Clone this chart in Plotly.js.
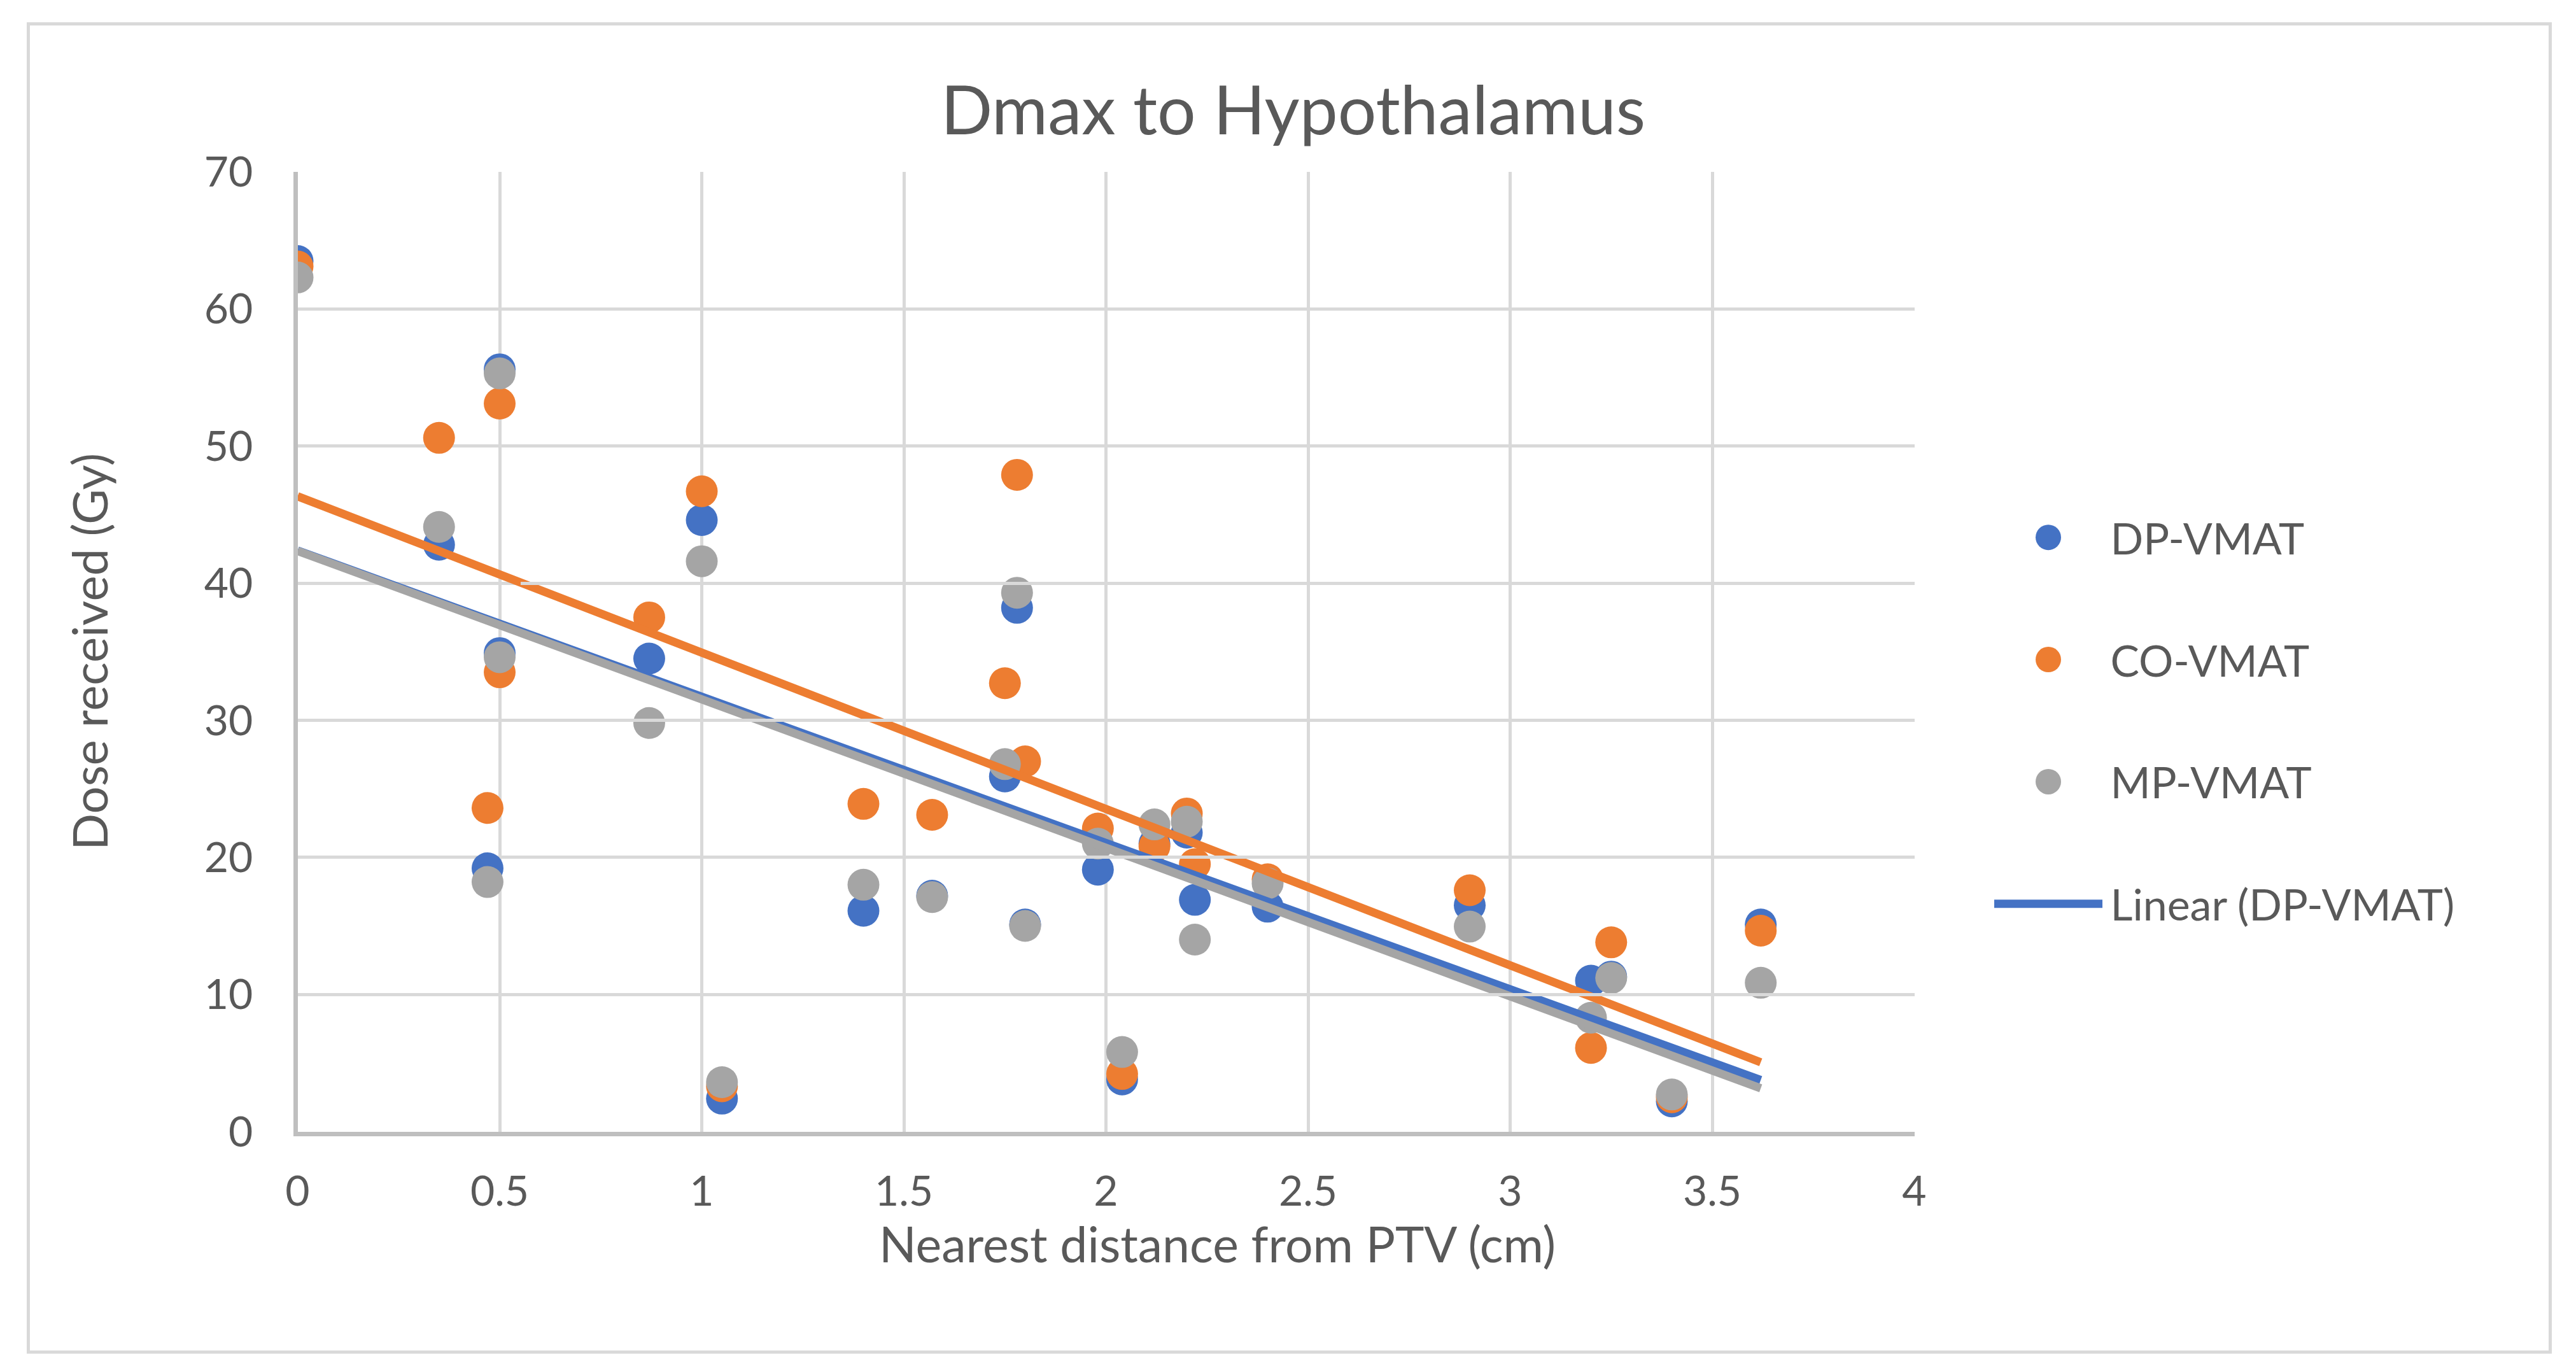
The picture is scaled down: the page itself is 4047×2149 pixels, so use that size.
<!DOCTYPE html>
<html>
<head>
<meta charset="utf-8">
<script src="https://cdn.plot.ly/plotly-3.0.1.min.js"></script>
<style>
  html, body { margin: 0; padding: 0; background: #fff; width: 4047px; height: 2149px; }
  #chart { transform-origin: 0 0; position: absolute; left: 0; top: 0; }
</style>
</head>
<body>
<div id="chart"></div>
<script>
// Dmax to Hypothalamus - scatter of dose vs distance with linear trendlines.
// Drawn at 1/S size and scaled up with CSS so legend markers keep their size.

const S = 2.5;
const W = 4047;
const H = 2149;
const px = (v) => v / S;

const distance = [0, 0.35, 0.47, 0.5, 0.5, 0.87, 1.0, 1.05, 1.40, 1.57, 1.75, 1.78,
  1.80, 1.98, 2.04, 2.12, 2.20, 2.22, 2.40, 2.90, 3.20, 3.25, 3.40, 3.62];
const dpVmat = [63.5, 42.8, 19.2, 55.6, 34.9, 34.5, 44.6, 2.4, 16.1, 17.2, 25.9, 38.2,
  15.1, 19.1, 3.8, 21.0, 21.8, 16.9, 16.4, 16.5, 11.0, 11.3, 2.2, 15.1];
const coVmat = [63.1, 50.6, 23.6, 53.1, 33.5, 37.5, 46.7, 3.3, 23.9, 23.1, 32.7, 47.9,
  27.0, 22.1, 4.2, 20.8, 23.2, 19.5, 18.4, 17.6, 6.1, 13.8, 2.5, 14.65];
const mpVmat = [62.3, 44.1, 18.2, 55.3, 34.6, 29.8, 41.6, 3.6, 18.0, 17.1, 26.8, 39.3,
  15.0, 21.0, 5.8, 22.4, 22.6, 14.0, 18.1, 14.95, 8.3, 11.2, 2.7, 10.85];

const seriesNames = ["DP-VMAT", "CO-VMAT", "MP-VMAT"];
const seriesValues = [dpVmat, coVmat, mpVmat];
const seriesColors = ["#4472C4", "#ED7D31", "#A5A5A5"];

const TEXT = "#595959";
const GRID = "#D9D9D9";
const AXIS = "#BFBFBF";
const FONT = "Lato, 'Open Sans', sans-serif";

// least squares fit, like Excel's linear trendline
function linearFit(x, y) {
  const n = x.length;
  const mx = x.reduce((a, b) => a + b, 0) / n;
  const my = y.reduce((a, b) => a + b, 0) / n;
  let sxy = 0, sxx = 0;
  for (let i = 0; i < n; i++) {
    sxy += (x[i] - mx) * (y[i] - my);
    sxx += (x[i] - mx) ** 2;
  }
  const slope = sxy / sxx;
  return { slope, intercept: my - slope * mx };
}

const xMin = Math.min(...distance);
const xMax = Math.max(...distance);

const scatterTraces = seriesNames.map((name, i) => ({
  x: distance,
  y: seriesValues[i],
  name,
  type: "scatter",
  mode: "markers",
  marker: { color: seriesColors[i], size: px(50) },
  legendgroup: name,
}));

const trendTraces = seriesNames.map((name, i) => {
  const fit = linearFit(distance, seriesValues[i]);
  const tx = [xMin, xMax];
  return {
    x: tx,
    y: tx.map((v) => fit.intercept + fit.slope * v),
    name: "Linear (" + name + ")",
    type: "scatter",
    mode: "lines",
    line: { color: seriesColors[i], width: px(13) },
    legendgroup: "trend" + name,
    showlegend: i === 0,
    hoverinfo: "skip",
  };
});

// empty trace, only there so the helper axis x2 (which carries the x title) is drawn
const titleAxisTrace = {
  x: [],
  y: [],
  xaxis: "x2",
  yaxis: "y",
  type: "scatter",
  mode: "markers",
  showlegend: false,
  hoverinfo: "skip",
};

// plot area in page pixels: x 467..3007, y 271..1776
const plotL = 467, plotR = 3007, plotT = 271, plotB = 1776;
const toPaperX = (v) => (v - plotL) / (plotR - plotL);
const toPaperY = (v) => (plotB - v) / (plotB - plotT);

// the x title in the reference sits right of the plot centre (page x ~1912),
// so it is carried by a bare helper axis whose domain is centred there
const xTitleCentre = toPaperX(1912);

const layout = {
  width: px(W),
  height: px(H),
  paper_bgcolor: "#fff",
  plot_bgcolor: "rgba(0,0,0,0)",
  margin: { l: px(plotL), r: px(W - plotR), t: px(plotT), b: px(H - plotB), pad: 0 },
  font: { family: FONT, color: TEXT, size: px(66) },
  title: {
    text: "Dmax to Hypothalamus",
    font: { family: FONT, color: TEXT, size: px(107) },
    xref: "paper",
    x: toPaperX(2031),
    xanchor: "center",
    yref: "container",
    y: 1 - 174 / H,
    yanchor: "middle",
  },
  xaxis: {
    range: [0, 4],
    dtick: 0.5,
    tick0: 0,
    showgrid: true,
    gridcolor: GRID,
    gridwidth: px(5),
    zeroline: false,
    showline: true,
    linecolor: AXIS,
    linewidth: px(7),
    ticks: "",
    ticklabelstandoff: px(30),
    tickfont: { family: FONT, color: TEXT, size: px(66) },
  },
  xaxis2: {
    domain: [2 * xTitleCentre - 1, 1],
    anchor: "free",
    position: 0,
    range: [0, 1],
    showgrid: false,
    zeroline: false,
    showline: false,
    showticklabels: false,
    ticks: "",
    title: {
      text: "Nearest distance from PTV (cm)",
      font: { family: FONT, color: TEXT, size: px(77) },
      standoff: px(150),
    },
  },
  yaxis: {
    range: [0, 70],
    dtick: 10,
    tick0: 0,
    showgrid: true,
    gridcolor: GRID,
    gridwidth: px(5),
    zeroline: false,
    showline: true,
    linecolor: AXIS,
    linewidth: px(7),
    ticks: "",
    ticklabelstandoff: px(50),
    tickfont: { family: FONT, color: TEXT, size: px(66) },
    title: {
      text: "Dose received (Gy)",
      font: { family: FONT, color: TEXT, size: px(76) },
      standoff: px(129),
    },
  },
  legend: {
    x: toPaperX(3120),
    xanchor: "left",
    y: toPaperY(1132),
    yanchor: "middle",
    traceorder: "grouped",
    tracegroupgap: px(96),
    itemwidth: px(170),
    font: { family: FONT, color: TEXT, size: px(68) },
    bgcolor: "rgba(0,0,0,0)",
  },
  shapes: [
    {
      type: "rect",
      xref: "paper",
      yref: "paper",
      x0: toPaperX(44),
      x1: toPaperX(4006),
      y0: toPaperY(2122),
      y1: toPaperY(39),
      line: { color: GRID, width: px(5) },
      layer: "below",
    },
  ],
  hovermode: "closest",
};

const el = document.getElementById("chart");
el.style.width = px(W) + "px";
el.style.height = px(H) + "px";
el.style.transform = "scale(" + S + ")";

Plotly.newPlot(el, [titleAxisTrace, ...scatterTraces, ...trendTraces], layout, {
  displayModeBar: false,
  responsive: false,
  staticPlot: true,
});
</script>
</body>
</html>
